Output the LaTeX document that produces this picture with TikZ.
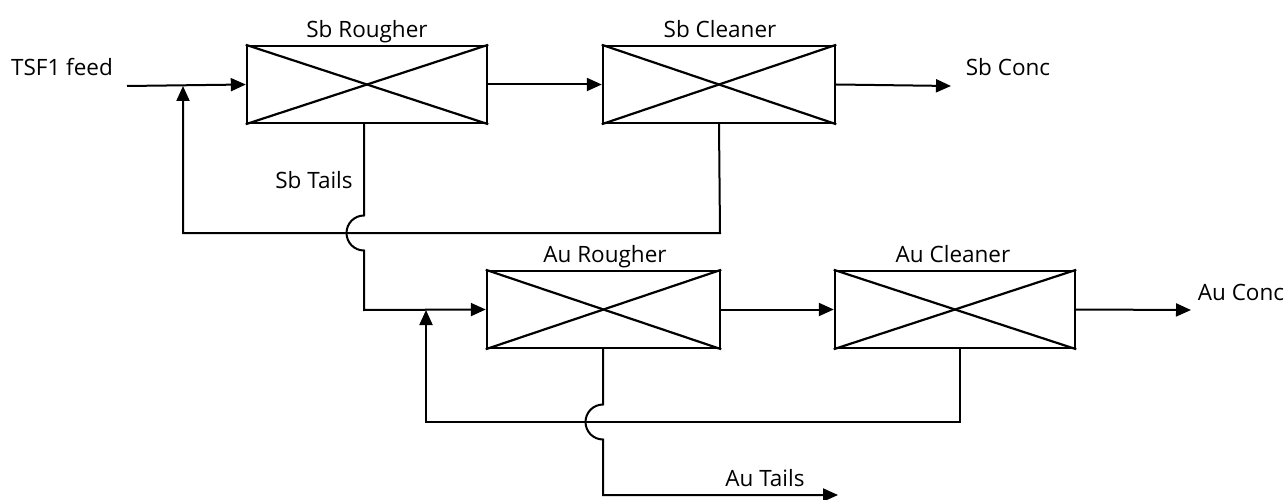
\documentclass[tikz,border=0pt]{standalone}
\usepackage{fontspec}
\setmainfont{Open Sans}
\usetikzlibrary{arrows.meta}
\begin{document}
\begin{tikzpicture}[x=1pt,y=-1pt,
  cell/.style={draw,line width=2.4pt,minimum width=#1,minimum height=77pt,inner sep=0pt},
  cell/.default=240pt,
  flow/.style={line width=2pt,-{Triangle[length=15pt,width=13pt]}},
  lbl/.style={font=\fontsize{22.5}{26}\selectfont,inner sep=0pt}]
\useasboundingbox (0,0) rectangle (1286,500);
% boxes
\node[cell=240pt] (sr) at (367,84.5) {};
\node[cell=232pt] (sc) at (719,84.5) {};
\node[cell=233pt] (ar) at (603.5,309.5) {};
\node[cell=240pt] (ac) at (955,309.5) {};
\foreach \b in {sr,sc,ar,ac}{
  \draw[line width=2.2pt] (\b.north west) -- (\b.south east);
  \draw[line width=2.2pt] (\b.south west) -- (\b.north east);
}
% labels
\node[lbl] (lsr) at (367,31.5) {Sb Rougher};
\node[lbl] (lsc) at (720,29) {Sb Cleaner};
\node[lbl] (lar) at (605,256.5) {Au Rougher};
\node[lbl] (lac) at (953,254) {Au Cleaner};
\node[lbl] (lfeed) at (62,67) {TSF1 feed};
\node[lbl] (lsbc) at (1008,67) {Sb Conc};
\node[lbl] (lauc) at (1241,292) {Au Conc};
\node[lbl] (lsbt) at (314,180) {Sb Tails};
\node[lbl] (laut) at (765,478) {Au Tails};
% coordinates
\coordinate (feed) at (127,86);
\coordinate (j1) at (183,86);
\coordinate (sbc) at (951,86);
\coordinate (j2) at (426,310);
\coordinate (auc) at (1191,310);
\coordinate (aut) at (838,495);
% main flows
\draw[flow] (feed) -- (sr.west);
\draw[flow] (sr.east) -- (sc.west);
\draw[flow] (sc.east) -- (sbc);
\draw[flow] (ar.east) -- (ac.west);
\draw[flow] (ac.east) -- (auc);
% Sb cleaner tails recycle
\draw[flow] (sc.south) -- (720,233) -- (183,233) -- (j1);
% Sb rougher tails to Au rougher (hop over)
\draw[flow] (364,123) -- (364,215.5) arc[start angle=-90,end angle=-270,radius=17.5] -- (364,310) -- (ar.west);
% Au cleaner tails recycle
\draw[flow] (960,348) -- (960,422) -- (426,422) -- (j2);
% Au rougher tails (hop over)
\draw[flow] (603,348) -- (603,404.5) arc[start angle=-90,end angle=-270,radius=17.5] -- (603,495) -- (aut);
\end{tikzpicture}
\end{document}
